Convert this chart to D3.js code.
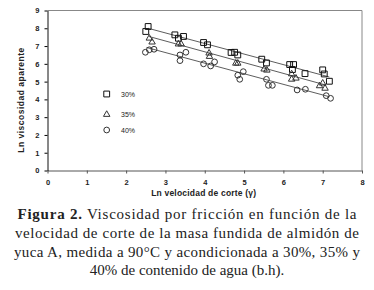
<!DOCTYPE html>
<html>
<head>
<meta charset="utf-8">
<script src="https://cdn.jsdelivr.net/npm/d3@7"></script>
<style>
  body { margin: 0; background: #fff; }
  text { font-family: "Liberation Sans", Arial, sans-serif; }
  .cap { font-family: "Liberation Serif", "DejaVu Serif", serif; font-size: 15px; fill: #222; }
</style>
</head>
<body>
<div id="chart"></div>
<script>
// Ln shear rate (x) and Ln apparent viscosity (y) per water content
const x30 = [2.50, 2.56, 3.24, 3.33, 3.46, 3.97, 4.07, 4.67, 4.76, 4.84, 5.45, 5.57, 6.16, 6.26, 6.23, 6.55, 7.00, 7.04, 7.17];
const y30 = [7.82, 8.10, 7.63, 7.44, 7.54, 7.20, 7.07, 6.64, 6.65, 6.50, 6.26, 6.05, 5.96, 5.96, 5.68, 5.45, 5.66, 5.43, 5.02];
const x35 = [2.59, 2.66, 3.33, 3.40, 4.11, 4.12, 4.79, 4.84, 5.51, 5.58, 6.21, 6.21, 6.32, 6.92, 7.00, 7.06];
const y35 = [7.44, 7.22, 7.11, 7.11, 6.60, 6.41, 6.03, 6.03, 5.70, 5.64, 5.43, 5.13, 5.19, 4.76, 4.91, 4.62];
const x40 = [2.49, 2.59, 2.71, 3.37, 3.37, 3.52, 3.97, 4.15, 4.25, 4.84, 4.89, 4.98, 5.57, 5.62, 5.72, 6.35, 6.56, 7.09, 7.20];
const y40 = [6.65, 6.79, 6.82, 6.50, 6.18, 6.65, 6.00, 5.88, 6.11, 5.36, 5.13, 5.56, 5.13, 4.79, 4.79, 4.53, 4.57, 4.21, 4.06];

// trend line end points [x, y]
const fit30 = [[2.56, 8.00], [7.17, 5.26]];
const fit35 = [[2.58, 7.54], [7.09, 4.80]];
const fit40 = [[2.52, 6.92], [7.17, 4.15]];

const seriesNames = ["30%", "35%", "40%"];
const xTicks = [0, 1, 2, 3, 4, 5, 6, 7, 8];
const yTicks = [0, 1, 2, 3, 4, 5, 6, 7, 8, 9];
const xTitle = "Ln velocidad de corte (\u03b3)";
const yTitle = "Ln viscosidad aparente";
const captionLines = [
  ["Figura 2.", " Viscosidad por fricción en función de la"],
  ["", "velocidad de corte de la masa fundida de almidón de"],
  ["", "yuca A, medida a 90°C y acondicionada a 30%, 35% y"],
  ["", "40% de contenido de agua (b.h)."]
];

const W = 374, H = 290;
const mLeft = 47.5, mRight = 362, mTop = 10.5, mBottom = 170.5;

const svg = d3.select("#chart").append("svg")
  .attr("width", W).attr("height", H);

const x = d3.scaleLinear().domain([0, 8]).range([mLeft, mRight]);
const y = d3.scaleLinear().domain([0, 9]).range([mBottom, mTop]);

// plot frame (top and right in gray)
svg.append("line").attr("x1", mLeft).attr("x2", mRight).attr("y1", mTop).attr("y2", mTop)
  .attr("stroke", "#888").attr("stroke-width", 1);
svg.append("line").attr("x1", mRight).attr("x2", mRight).attr("y1", mTop).attr("y2", mBottom)
  .attr("stroke", "#888").attr("stroke-width", 1);

// axes
const xAxis = svg.append("g")
  .attr("transform", `translate(0,${mBottom})`)
  .call(d3.axisBottom(x).tickValues(xTicks).tickSize(3).tickSizeOuter(0).tickPadding(6));
xAxis.select(".domain").attr("stroke", "#555");
xAxis.selectAll(".tick line").attr("stroke", "#555");

const yAxis = svg.append("g")
  .attr("transform", `translate(${mLeft},0)`)
  .call(d3.axisLeft(y).tickValues(yTicks).tickSize(3).tickSizeOuter(0).tickPadding(5));
yAxis.select(".domain").attr("stroke", "#111");

svg.selectAll(".tick text")
  .attr("font-family", "Liberation Sans, Arial, sans-serif")
  .attr("font-size", 7.5).attr("font-weight", "bold").attr("fill", "#222");

// axis titles
svg.append("text").attr("x", (mLeft + mRight) / 2 - 1).attr("y", 195.5)
  .attr("text-anchor", "middle").attr("font-size", 8.5).attr("font-weight", "bold")
  .attr("letter-spacing", 0.2).attr("fill", "#222").text(xTitle);
svg.append("text").attr("transform", `translate(23.5,100) rotate(-90)`)
  .attr("text-anchor", "middle").attr("font-size", 8.5).attr("font-weight", "bold")
  .attr("letter-spacing", 0.5).attr("fill", "#222").text(yTitle);

// trend lines
const line = d3.line().x(d => x(d[0])).y(d => y(d[1]));
[fit30, fit35, fit40].forEach(f => {
  svg.append("path").attr("d", line(f)).attr("fill", "none")
    .attr("stroke", "#333").attr("stroke-width", 0.8);
});

// markers
const sq = d3.symbol().type(d3.symbolSquare).size(34);
const tri = d3.symbol().type(d3.symbolTriangle).size(18);
const circ = d3.symbol().type(d3.symbolCircle).size(26);
const series = [
  { xs: x30, ys: y30, sym: sq, col: "#111" },
  { xs: x35, ys: y35, sym: tri, col: "#333" },
  { xs: x40, ys: y40, sym: circ, col: "#333" }
];
series.forEach(s => {
  svg.append("g").selectAll("path")
    .data(s.xs.map((v, i) => [v, s.ys[i]]))
    .join("path")
    .attr("d", s.sym)
    .attr("transform", d => `translate(${x(d[0])},${y(d[1])})`)
    .attr("fill", "none").attr("stroke", s.col).attr("stroke-width", 1);
});

// legend
const legY = [94, 114.5, 130];
series.forEach((s, i) => {
  svg.append("path").attr("d", s.sym)
    .attr("transform", `translate(106.7,${legY[i]})`)
    .attr("fill", "none").attr("stroke", s.col).attr("stroke-width", 1);
  svg.append("text").attr("x", 121).attr("y", legY[i] + 2.5)
    .attr("font-size", 7).attr("fill", "#222").text(seriesNames[i]);
});

// caption
const capY = [219, 238, 256.5, 275];
const capW = [339, 344, 346, null];
captionLines.forEach((l, i) => {
  const t = svg.append("text").attr("class", "cap")
    .attr("x", W / 2).attr("y", capY[i]).attr("text-anchor", "middle");
  if (capW[i]) t.attr("textLength", capW[i]).attr("lengthAdjust", "spacing");
  if (l[0]) t.append("tspan").attr("font-weight", "bold").text(l[0]);
  t.append("tspan").text(l[1]);
});
</script>
</body>
</html>
